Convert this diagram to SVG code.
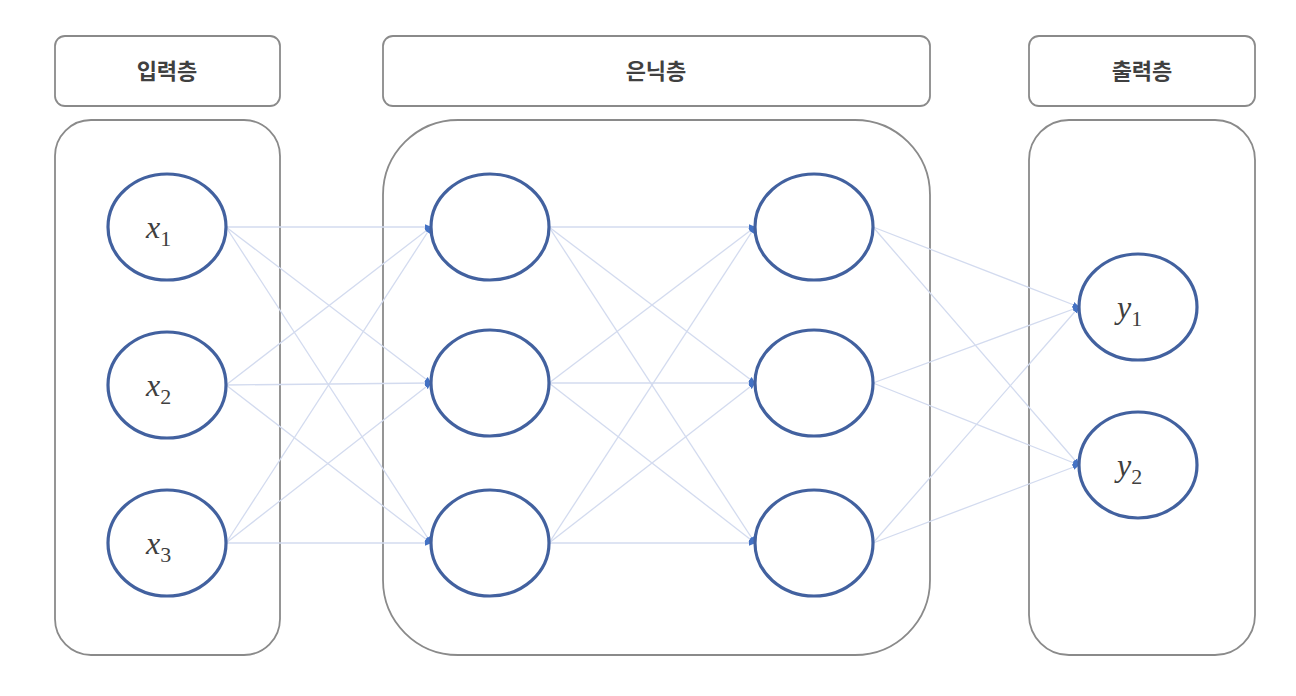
<svg xmlns="http://www.w3.org/2000/svg" width="1296" height="696" viewBox="0 0 1296 696">
<defs>
<style>
.hdr{fill:#fff;stroke:#8a8a8a;stroke-width:1.8}
.body{fill:#fff;stroke:#8a8a8a;stroke-width:1.8}
.ht{font-family:"Noto Sans CJK KR","Noto Sans",sans-serif;font-weight:bold;font-size:22px;fill:#404040;text-anchor:middle}
.node{fill:#fff;stroke:#42619f;stroke-width:3.2}
.lbl{font-family:"Liberation Serif",serif;font-style:italic;font-size:32px;fill:#404040}
.sub{font-style:normal;font-size:22px}
.c{stroke:#d3dbef;stroke-width:1.3;fill:none;marker-end:url(#ah)}
</style>
<marker id="ah" viewBox="0 0 10 10" refX="9" refY="5" markerWidth="7" markerHeight="7" orient="auto" markerUnits="userSpaceOnUse">
<path d="M0,1 L10,5 L0,9 z" fill="#4472c4"/>
</marker>
</defs>
<rect width="1296" height="696" fill="#fff"/>
<g id="hdr-input"><rect class="hdr" x="55" y="36" width="225" height="70" rx="10"/><text class="ht" x="167" y="79">입력층</text></g>
<g id="hdr-hidden"><rect class="hdr" x="383" y="36" width="547" height="70" rx="10"/><text class="ht" x="656" y="79">은닉층</text></g>
<g id="hdr-output"><rect class="hdr" x="1029" y="36" width="226" height="70" rx="10"/><text class="ht" x="1142" y="79">출력층</text></g>
<g id="box-input"><rect class="body" x="55" y="120" width="225" height="535" rx="36"/></g>
<g id="box-hidden"><rect class="body" x="383" y="120" width="547" height="535" rx="75"/></g>
<g id="box-output"><rect class="body" x="1029" y="120" width="226" height="535" rx="40"/></g>
<g id="connectors">
<line class="c" x1="226" y1="227" x2="431" y2="227"/>
<line class="c" x1="226" y1="227" x2="431" y2="383"/>
<line class="c" x1="226" y1="227" x2="431" y2="543"/>
<line class="c" x1="226" y1="385" x2="431" y2="227"/>
<line class="c" x1="226" y1="385" x2="431" y2="383"/>
<line class="c" x1="226" y1="385" x2="431" y2="543"/>
<line class="c" x1="226" y1="543" x2="431" y2="227"/>
<line class="c" x1="226" y1="543" x2="431" y2="383"/>
<line class="c" x1="226" y1="543" x2="431" y2="543"/>
<line class="c" x1="549" y1="227" x2="755" y2="227"/>
<line class="c" x1="549" y1="227" x2="755" y2="383"/>
<line class="c" x1="549" y1="227" x2="755" y2="543"/>
<line class="c" x1="549" y1="383" x2="755" y2="227"/>
<line class="c" x1="549" y1="383" x2="755" y2="383"/>
<line class="c" x1="549" y1="383" x2="755" y2="543"/>
<line class="c" x1="549" y1="543" x2="755" y2="227"/>
<line class="c" x1="549" y1="543" x2="755" y2="383"/>
<line class="c" x1="549" y1="543" x2="755" y2="543"/>
<line class="c" x1="873" y1="227" x2="1079" y2="307"/>
<line class="c" x1="873" y1="227" x2="1079" y2="465"/>
<line class="c" x1="873" y1="383" x2="1079" y2="307"/>
<line class="c" x1="873" y1="383" x2="1079" y2="465"/>
<line class="c" x1="873" y1="543" x2="1079" y2="307"/>
<line class="c" x1="873" y1="543" x2="1079" y2="465"/>
</g>
<g id="x1"><ellipse class="node" cx="167" cy="227" rx="59" ry="53"/><text class="lbl" x="146" y="238">x<tspan class="sub" dy="8">1</tspan></text></g>
<g id="x2"><ellipse class="node" cx="167" cy="385" rx="59" ry="53"/><text class="lbl" x="146" y="396">x<tspan class="sub" dy="8">2</tspan></text></g>
<g id="x3"><ellipse class="node" cx="167" cy="543" rx="59" ry="53"/><text class="lbl" x="146" y="554">x<tspan class="sub" dy="8">3</tspan></text></g>
<g id="h11"><ellipse class="node" cx="490" cy="227" rx="59" ry="53"/></g>
<g id="h12"><ellipse class="node" cx="490" cy="383" rx="59" ry="53"/></g>
<g id="h13"><ellipse class="node" cx="490" cy="543" rx="59" ry="53"/></g>
<g id="h21"><ellipse class="node" cx="814" cy="227" rx="59" ry="53"/></g>
<g id="h22"><ellipse class="node" cx="814" cy="383" rx="59" ry="53"/></g>
<g id="h23"><ellipse class="node" cx="814" cy="543" rx="59" ry="53"/></g>
<g id="y1"><ellipse class="node" cx="1138" cy="307" rx="59" ry="53"/><text class="lbl" x="1117" y="318">y<tspan class="sub" dy="8">1</tspan></text></g>
<g id="y2"><ellipse class="node" cx="1138" cy="465" rx="59" ry="53"/><text class="lbl" x="1117" y="476">y<tspan class="sub" dy="8">2</tspan></text></g>
</svg>
